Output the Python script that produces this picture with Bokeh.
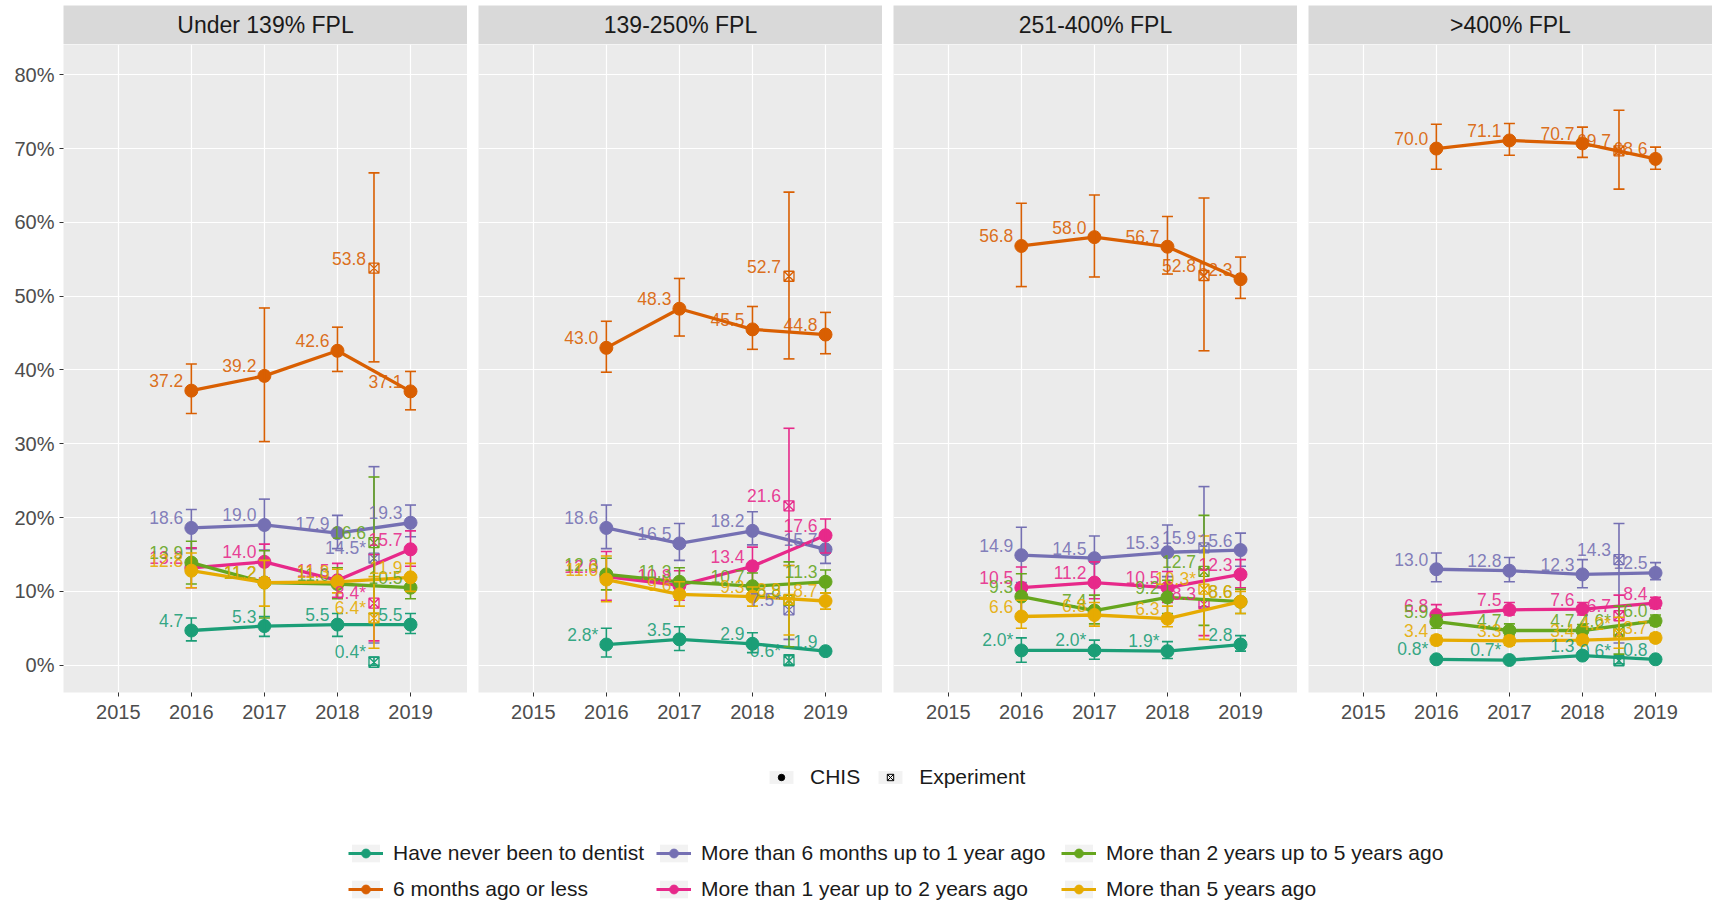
from bokeh.plotting import figure
from bokeh.models import ColumnDataSource, Range1d, Legend, LegendItem, FixedTicker
from bokeh.layouts import row, column
from bokeh.embed import file_html
from bokeh.resources import INLINE
from bokeh.core.properties import value

FONT = "Liberation Sans"

panels = ["Under 139% FPL", "139-250% FPL", "251-400% FPL", ">400% FPL"]
years = [2016, 2017, 2018, 2019]
exp_year = 2018.5
x_ticks = [2015, 2016, 2017, 2018, 2019]
y_ticks = [0, 10, 20, 30, 40, 50, 60, 70, 80]
y_tick_labels = ["0%", "10%", "20%", "30%", "40%", "50%", "60%", "70%", "80%"]

series_names = ["Have never been to dentist", "6 months ago or less",
                "More than 6 months up to 1 year ago", "More than 1 year up to 2 years ago",
                "More than 2 years up to 5 years ago", "More than 5 years ago"]
series_colors = ["#1B9E77", "#D95F02", "#7570B3", "#E7298A", "#66A61E", "#E6AB02"]
source_names = ["CHIS", "Experiment"]

# rows = panels, columns = 2016..2019
never_val = [[4.7, 5.3, 5.5, 5.5], [2.8, 3.5, 2.9, 1.9], [2.0, 2.0, 1.9, 2.8], [0.8, 0.7, 1.3, 0.8]]
never_lo = [[3.3, 3.9, 3.9, 4.3], [1.1, 2.0, 1.7, 1.5], [0.4, 0.8, 0.9, 1.9], [0.5, 0.5, 1.0, 0.6]]
never_hi = [[6.4, 6.6, 7.0, 7.0], [5.0, 5.2, 4.4, 2.3], [3.7, 3.4, 3.2, 4.0], [1.1, 0.9, 1.6, 1.0]]
never_star = [[0, 0, 0, 0], [1, 0, 0, 0], [1, 1, 1, 0], [1, 1, 0, 0]]
never_exp = [0.4, 0.6, None, 0.6]
never_exp_lo = [0.0, 0.1, None, 0.2]
never_exp_hi = [1.1, 1.4, None, 1.0]
never_exp_star = [1, 1, 0, 1]

recent_val = [[37.2, 39.2, 42.6, 37.1], [43.0, 48.3, 45.5, 44.8], [56.8, 58.0, 56.7, 52.3], [70.0, 71.1, 70.7, 68.6]]
recent_lo = [[34.1, 30.3, 39.8, 34.6], [39.7, 44.6, 42.8, 42.2], [51.3, 52.6, 53.0, 49.7], [67.2, 69.1, 68.8, 67.2]]
recent_hi = [[40.8, 48.4, 45.8, 39.8], [46.6, 52.4, 48.6, 47.8], [62.6, 63.7, 60.8, 55.3], [73.3, 73.4, 72.9, 70.2]]
recent_star = [[0, 0, 0, 0], [0, 0, 0, 0], [0, 0, 0, 0], [0, 0, 0, 0]]
recent_exp = [53.8, 52.7, 52.8, 69.7]
recent_exp_lo = [41.1, 41.5, 42.6, 64.5]
recent_exp_hi = [66.7, 64.1, 63.3, 75.2]
recent_exp_star = [0, 0, 0, 0]

halfyear_val = [[18.6, 19.0, 17.9, 19.3], [18.6, 16.5, 18.2, 15.7], [14.9, 14.5, 15.3, 15.6], [13.0, 12.8, 12.3, 12.5]]
halfyear_lo = [[15.8, 15.6, 15.8, 17.4], [15.8, 14.2, 16.3, 13.8], [11.2, 11.7, 12.0, 13.4], [11.3, 11.3, 10.5, 11.6]]
halfyear_hi = [[21.1, 22.5, 20.3, 21.7], [21.7, 19.2, 20.8, 17.8], [18.7, 17.5, 19.0, 17.9], [15.2, 14.6, 14.3, 13.9]]
halfyear_star = [[0, 0, 0, 0], [0, 0, 0, 0], [0, 0, 0, 0], [0, 0, 0, 0]]
halfyear_exp = [14.5, 7.5, 15.9, 14.3]
halfyear_exp_lo = [3.0, 3.5, 7.9, 3.0]
halfyear_exp_hi = [26.9, 13.5, 24.2, 19.2]
halfyear_exp_star = [1, 1, 0, 0]

oneyear_val = [[13.2, 14.0, 11.5, 15.7], [12.0, 10.8, 13.4, 17.6], [10.5, 11.2, 10.5, 12.3], [6.8, 7.5, 7.6, 8.4]]
oneyear_lo = [[10.5, 11.8, 9.2, 13.4], [8.8, 8.8, 10.8, 15.2], [6.5, 9.0, 8.5, 10.5], [6.0, 6.8, 6.8, 7.7]]
oneyear_hi = [[15.9, 16.4, 13.8, 18.2], [15.4, 12.8, 16.0, 19.8], [13.3, 14.0, 12.7, 14.3], [8.2, 8.5, 8.5, 9.2]]
oneyear_star = [[0, 0, 0, 0], [0, 0, 0, 0], [0, 0, 0, 0], [0, 0, 0, 0]]
oneyear_exp = [8.4, 21.6, 8.3, 6.7]
oneyear_exp_lo = [3.3, 11.0, 4.0, 4.1]
oneyear_exp_hi = [15.0, 32.1, 13.0, 9.5]
oneyear_exp_star = [1, 0, 0, 0]

twofive_val = [[13.9, 11.2, 11.0, 10.5], [12.3, 11.3, 10.7, 11.3], [9.3, 7.4, 9.2, 8.6], [5.9, 4.7, 4.7, 6.0]]
twofive_lo = [[11.0, 6.4, 9.0, 9.0], [10.2, 9.5, 9.0, 9.8], [6.5, 5.6, 7.0, 7.0], [5.0, 4.0, 4.0, 5.4]]
twofive_hi = [[16.8, 15.5, 13.2, 12.2], [14.5, 13.2, 12.5, 12.9], [12.4, 9.5, 11.5, 10.3], [6.8, 5.6, 5.5, 6.8]]
twofive_star = [[0, 0, 0, 0], [0, 0, 0, 0], [0, 0, 0, 0], [0, 0, 0, 0]]
twofive_exp = [16.6, 8.8, 12.7, 4.6]
twofive_exp_lo = [7.0, 2.5, 5.4, 1.5]
twofive_exp_hi = [25.5, 14.0, 20.3, 8.0]
twofive_exp_star = [0, 0, 0, 1]

fiveplus_val = [[12.8, 11.2, 11.3, 11.9], [11.6, 9.6, 9.3, 8.7], [6.6, 6.8, 6.3, 8.6], [3.4, 3.3, 3.4, 3.7]]
fiveplus_lo = [[10.5, 8.0, 9.8, 10.0], [8.6, 8.0, 8.0, 7.6], [5.0, 5.3, 5.2, 7.0], [2.8, 2.7, 2.8, 3.2]]
fiveplus_hi = [[15.2, 14.2, 13.0, 13.8], [14.8, 11.3, 10.6, 9.8], [8.8, 8.5, 8.0, 10.0], [4.0, 3.9, 4.0, 4.3]]
fiveplus_star = [[0, 0, 0, 0], [0, 0, 0, 0], [0, 0, 0, 0], [0, 0, 0, 0]]
fiveplus_exp = [6.4, 8.9, 10.3, 4.2]
fiveplus_exp_lo = [2.3, 4.1, 3.5, 2.3]
fiveplus_exp_hi = [12.0, 13.5, 17.5, 6.5]
fiveplus_exp_star = [1, 0, 1, 1]

series = [
    (never_val, never_lo, never_hi, never_star, never_exp, never_exp_lo, never_exp_hi, never_exp_star),
    (recent_val, recent_lo, recent_hi, recent_star, recent_exp, recent_exp_lo, recent_exp_hi, recent_exp_star),
    (halfyear_val, halfyear_lo, halfyear_hi, halfyear_star, halfyear_exp, halfyear_exp_lo, halfyear_exp_hi, halfyear_exp_star),
    (oneyear_val, oneyear_lo, oneyear_hi, oneyear_star, oneyear_exp, oneyear_exp_lo, oneyear_exp_hi, oneyear_exp_star),
    (twofive_val, twofive_lo, twofive_hi, twofive_star, twofive_exp, twofive_exp_lo, twofive_exp_hi, twofive_exp_star),
    (fiveplus_val, fiveplus_lo, fiveplus_hi, fiveplus_star, fiveplus_exp, fiveplus_exp_lo, fiveplus_exp_hi, fiveplus_exp_star),
]


def fmt(v, s):
    return f"{v:.1f}" + ("*" if s else "")


FRAME_W = 404
cols = []
for i, name in enumerate(panels):
    left = 63 if i == 0 else 11
    strip = figure(frame_width=FRAME_W, frame_height=39, min_border_left=left, min_border_right=0,
                   min_border_top=5, min_border_bottom=0, x_range=Range1d(0, 1), y_range=Range1d(0, 1),
                   x_axis_location=None, y_axis_location=None, toolbar_location=None,
                   output_backend="svg", background_fill_color="#D9D9D9", outline_line_color=None,
                   border_fill_color="white")
    strip.grid.visible = False
    strip.text(x=[0.5], y=[0.5], text=[name], text_align="center", text_baseline="middle",
               text_font=value(FONT), text_font_size="23px", text_color="#1A1A1A")

    p = figure(frame_width=FRAME_W, frame_height=648, min_border_left=left, min_border_right=0,
               min_border_top=0, min_border_bottom=40, x_range=Range1d(2014.25, 2019.78),
               y_range=Range1d(-3.7, 84.1), toolbar_location=None, output_backend="svg",
               background_fill_color="#EBEBEB", outline_line_color=None, border_fill_color="white")
    p.xaxis.ticker = FixedTicker(ticks=x_ticks)
    p.yaxis.ticker = FixedTicker(ticks=y_ticks)
    p.yaxis.major_label_overrides = dict(zip(y_ticks, y_tick_labels))
    p.grid.grid_line_color = "white"
    p.grid.grid_line_width = 1.2
    p.grid.minor_grid_line_color = None
    for ax in p.axis:
        ax.axis_line_color = None
        ax.major_tick_line_color = "#333333"
        ax.major_tick_out = 4
        ax.major_tick_in = 0
        ax.minor_tick_line_color = None
        ax.major_label_text_font = FONT
        ax.major_label_text_font_size = "20px"
        ax.major_label_text_color = "#4D4D4D"
        ax.major_label_standoff = 5
    p.xaxis.major_label_standoff = 8
    if i > 0:
        p.yaxis.visible = False

    text_sources = []
    for (val, lo, hi, star, ev, elo, ehi, estar), color in zip(series, series_colors):
        src = ColumnDataSource(dict(x=years, y=val[i], lo=lo[i], hi=hi[i],
                                    lab=[fmt(a, b) for a, b in zip(val[i], star[i])]))
        p.line("x", "y", source=src, line_color=color, line_width=3.3)
        p.scatter("x", "y", source=src, marker="circle", size=13, fill_color=color, line_color=color)
        p.segment(x0="x", y0="lo", x1="x", y1="hi", source=src, line_color=color, line_width=1.6)
        p.scatter("x", "lo", source=src, marker="dash", size=11, line_color=color, line_width=1.6)
        p.scatter("x", "hi", source=src, marker="dash", size=11, line_color=color, line_width=1.6)
        text_sources.append((src, color))
        if ev[i] is not None:
            esrc = ColumnDataSource(dict(x=[exp_year], y=[ev[i]], lo=[elo[i]], hi=[ehi[i]],
                                         lab=[fmt(ev[i], estar[i])]))
            p.segment(x0="x", y0="lo", x1="x", y1="hi", source=esrc, line_color=color, line_width=1.6)
            p.scatter("x", "lo", source=esrc, marker="dash", size=11, line_color=color, line_width=1.6)
            p.scatter("x", "hi", source=esrc, marker="dash", size=11, line_color=color, line_width=1.6)
            p.scatter("x", "y", source=esrc, marker="square_x", size=10, fill_alpha=0,
                      line_color=color, line_width=1.3)
            text_sources.append((esrc, color))
    for src, color in text_sources:
        p.text(x="x", y="y", text="lab", source=src, text_align="right", text_baseline="alphabetic",
               x_offset=-8, y_offset=-10, text_font=value(FONT), text_font_size="17.5px",
               text_color=color, text_alpha=0.9)
    cols.append(column(strip, p))

# legend figure (keys only; dummy renderers sit outside the visible range)
lf = figure(width=1715, height=175, x_range=Range1d(0, 1), y_range=Range1d(0, 1),
            x_axis_location=None, y_axis_location=None, toolbar_location=None,
            output_backend="svg", min_border=0, outline_line_color=None)
lf.grid.visible = False


def dummy():
    return ColumnDataSource(dict(x=[-9], y=[-9]))


bg = lf.rect(x="x", y="y", width=1, height=1, source=dummy(), fill_color="#F2F2F2", line_color=None)
chis_r = lf.scatter("x", "y", source=dummy(), marker="circle", size=6, color="black")
exp_r = lf.scatter("x", "y", source=dummy(), marker="square_x", size=8, fill_alpha=0,
                   line_color="black", line_width=1)
leg1 = Legend(items=[LegendItem(label=source_names[0], renderers=[bg, chis_r]),
                     LegendItem(label=source_names[1], renderers=[bg, exp_r])],
              location=(766, 112), orientation="horizontal", glyph_width=30, glyph_height=16,
              label_height=37, label_standoff=14, spacing=15, padding=0, margin=0,
              border_line_color=None, background_fill_alpha=0, label_text_font=FONT,
              label_text_font_size="21px", label_text_color="#1A1A1A")
lf.add_layout(leg1)

items = []
for name, color in zip(series_names, series_colors):
    lr = lf.line("x", "y", source=dummy(), line_color=color, line_width=3)
    sr = lf.scatter("x", "y", source=dummy(), marker="circle", size=8, color=color)
    items.append(LegendItem(label=name, renderers=[bg, lr, sr]))

for k, xpos in enumerate([348, 656, 1061]):
    lg = Legend(items=items[2 * k:2 * k + 2], location=(xpos, 0), orientation="vertical",
                glyph_width=35, glyph_height=22, label_height=36, label_standoff=10, spacing=0,
                padding=0, margin=0, border_line_color=None, background_fill_alpha=0,
                label_text_font=FONT, label_text_font_size="21px", label_text_color="#1A1A1A")
    lf.add_layout(lg)

layout = column(row(*cols), lf)
open("out.html", "w").write(file_html(layout, INLINE))
